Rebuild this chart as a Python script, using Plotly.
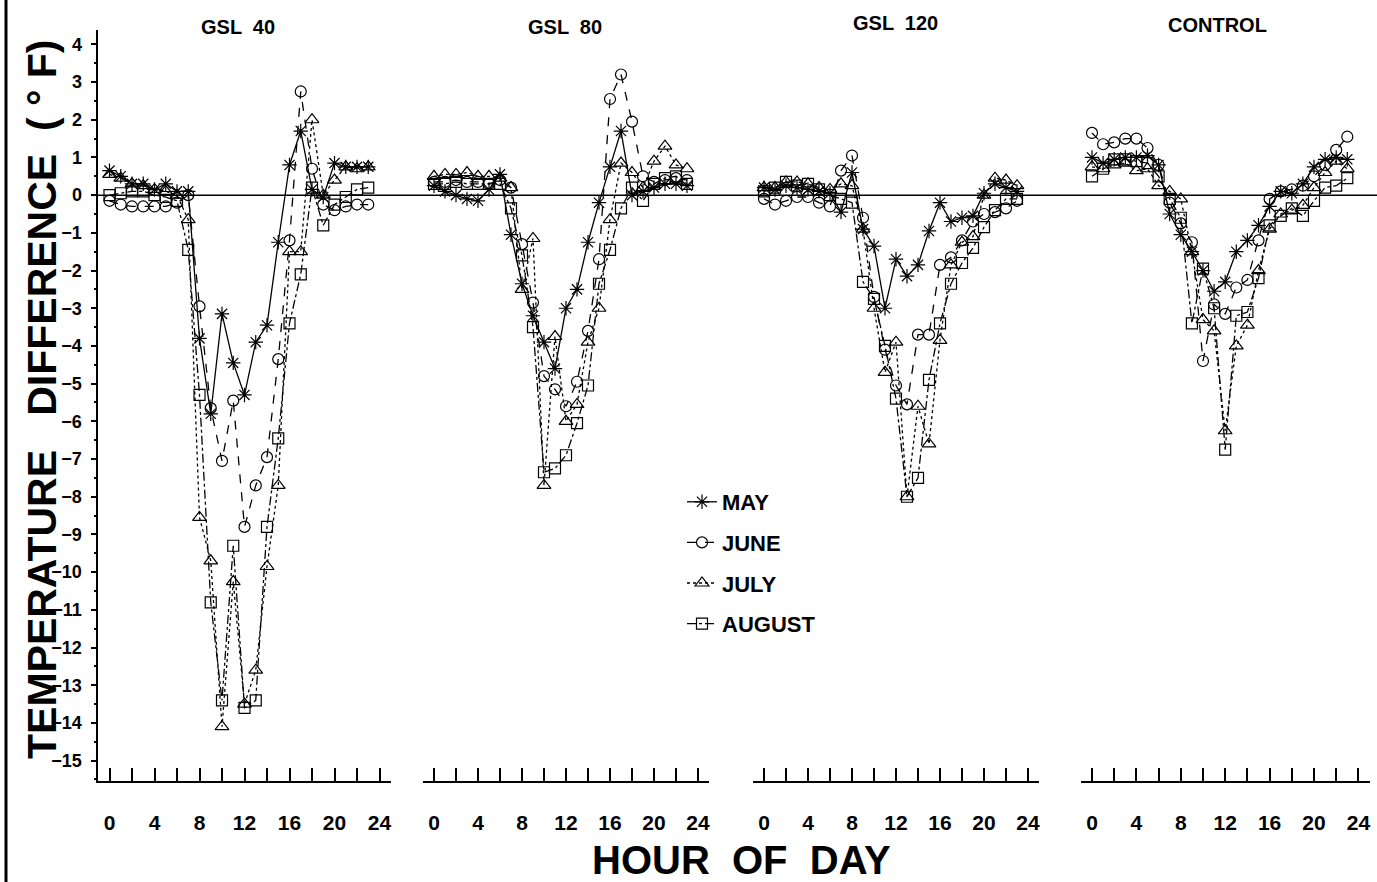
import plotly.graph_objects as go

# ---------------- data ----------------
hours = list(range(24))
panel_titles = ["GSL  40", "GSL  80", "GSL  120", "CONTROL"]
months = ["MAY", "JUNE", "JULY", "AUGUST"]
x_tick_vals = list(range(0, 25, 2))
x_tick_text = [str(v) if v % 4 == 0 else "" for v in x_tick_vals]
y_tick_vals = list(range(-15, 5))

# GSL 40
may_40 = [0.65, 0.5, 0.3, 0.3, 0.15, 0.3, 0.1, 0.1, -3.8, -5.8, -3.15, -4.45, -5.3, -3.9, -3.45, -1.25, 0.8, 1.7, 0.15, -0.05, 0.85, 0.75, 0.75, 0.75]
june_40 = [-0.15, -0.25, -0.3, -0.3, -0.3, -0.3, -0.2, 0.0, -2.95, -5.65, -7.05, -5.45, -8.8, -7.7, -6.95, -4.35, -1.2, 2.75, 0.7, -0.25, -0.4, -0.3, -0.25, -0.25]
july_40 = [0.55, 0.45, 0.3, 0.25, 0.15, 0.1, 0.0, -0.65, -8.55, -9.7, -14.1, -10.25, -13.5, -12.6, -9.85, -7.7, -1.5, -1.5, 2.0, 0.0, 0.4, 0.75, 0.7, 0.75]
aug_40 = [0.0, 0.05, 0.1, 0.1, 0.0, -0.05, -0.15, -1.45, -5.3, -10.8, -13.4, -9.3, -13.6, -13.4, -8.8, -6.45, -3.4, -2.1, 0.2, -0.8, -0.25, -0.05, 0.15, 0.2]

# GSL 80
may_80 = [0.25, 0.1, 0.0, -0.1, -0.15, 0.15, 0.55, -1.05, -2.35, -3.2, -3.9, -4.6, -3.0, -2.5, -1.25, -0.2, 0.75, 1.7, 0.0, 0.1, 0.2, 0.3, 0.3, 0.25]
june_80 = [0.35, 0.35, 0.4, 0.35, 0.35, 0.3, 0.4, 0.2, -1.3, -2.85, -4.8, -5.15, -5.6, -4.95, -3.6, -1.7, 2.55, 3.2, 1.95, 0.5, 0.35, 0.4, 0.45, 0.4]
july_80 = [0.5, 0.55, 0.55, 0.6, 0.5, 0.5, 0.45, 0.2, -2.5, -1.15, -7.7, -3.75, -6.0, -5.55, -3.9, -3.0, -0.65, 0.85, 0.6, 0.2, 0.9, 1.3, 0.8, 0.7]
aug_80 = [0.3, 0.3, 0.35, 0.3, 0.3, 0.3, 0.3, -0.35, -1.6, -3.5, -7.35, -7.25, -6.9, -6.05, -5.05, -2.35, -1.45, -0.35, 0.2, -0.15, 0.3, 0.45, 0.5, 0.3]

# GSL 120
may_120 = [0.2, 0.15, 0.25, 0.2, 0.15, 0.1, 0.05, -0.45, 0.6, -0.9, -1.35, -3.0, -1.7, -2.15, -1.85, -0.95, -0.2, -0.7, -0.6, -0.55, 0.05, 0.3, 0.2, 0.1]
june_120 = [-0.1, -0.25, -0.15, -0.05, -0.05, -0.2, -0.3, 0.65, 1.05, -0.6, -2.7, -4.1, -5.05, -5.55, -3.7, -3.7, -1.85, -1.65, -1.2, -0.7, -0.5, -0.45, -0.35, -0.15]
july_120 = [0.2, 0.2, 0.35, 0.35, 0.3, 0.2, 0.15, 0.3, 0.25, -0.9, -3.0, -4.7, -3.9, -8.0, -5.6, -6.6, -3.85, -1.85, -1.25, -1.1, 0.0, 0.45, 0.4, 0.25]
aug_120 = [0.1, 0.2, 0.35, 0.25, 0.3, 0.15, 0.0, -0.1, -0.2, -2.3, -2.75, -4.0, -5.4, -8.0, -7.5, -4.9, -3.4, -2.35, -1.8, -1.4, -0.85, -0.4, -0.1, -0.1]

# CONTROL
may_c = [1.0, 0.85, 0.95, 1.0, 1.0, 1.05, 0.8, -0.5, -1.05, -1.5, -2.0, -2.55, -2.3, -1.5, -1.2, -0.8, -0.3, 0.1, 0.05, 0.3, 0.75, 0.95, 1.0, 0.95]
june_c = [1.65, 1.35, 1.4, 1.5, 1.5, 1.25, 0.8, -0.2, -0.75, -1.25, -4.4, -2.9, -3.15, -2.45, -2.25, -1.2, -0.1, 0.1, 0.15, 0.25, 0.5, 0.8, 1.2, 1.55]
july_c = [0.75, 0.7, 0.8, 0.85, 0.65, 0.7, 0.25, 0.1, -0.1, -1.5, -3.3, -3.6, -6.25, -4.0, -3.45, -2.0, -0.9, -0.5, -0.4, -0.27, 0.2, 0.6, 0.9, 0.7]
aug_c = [0.5, 0.7, 0.95, 0.95, 0.9, 0.85, 0.5, -0.1, -0.6, -3.4, -1.95, -3.0, -6.75, -3.2, -3.1, -2.2, -0.8, -0.55, -0.35, -0.55, -0.15, 0.2, 0.25, 0.45]

panel_data = [
    [may_40, june_40, july_40, aug_40],
    [may_80, june_80, july_80, aug_80],
    [may_120, june_120, july_120, aug_120],
    [may_c, june_c, july_c, aug_c],
]

# ---------------- layout geometry ----------------
W, H = 1377, 882
ML, MR, MT, MB = 98, 7, 30, 101
PW = W - ML - MR
PH = H - MT - MB
X_RANGE = [-1, 25]
Y_RANGE = [-15.54, 4.38]
panel_x0 = [109.5, 434, 764, 1092]      # pixel of hour 0
panel_step = [11.25, 11.0, 11.0, 11.1]  # pixels per hour


def px(x):
    return (x - ML) / PW


def py(y):
    return (H - MB - y) / PH


FONT = "Liberation Sans, Arial, Helvetica, sans-serif"
styles = {
    "MAY": dict(symbol="asterisk-open", dash="solid", size=12),
    "JUNE": dict(symbol="circle-open", dash="dash", size=11),
    "JULY": dict(symbol="triangle-up-open", dash="dot", size=12),
    "AUGUST": dict(symbol="square-open", dash="dashdot", size=11),
}

fig = go.Figure()
for i, series in enumerate(panel_data):
    xa = "x" if i == 0 else f"x{i + 1}"
    for m, vals in zip(months, series):
        st = styles[m]
        fig.add_trace(go.Scatter(
            x=hours, y=vals, xaxis=xa, yaxis="y",
            mode="lines+markers", name=m, legendgroup=m, showlegend=(i == 0),
            line=dict(color="black", width=1.3, dash=st["dash"]),
            marker=dict(symbol=st["symbol"], size=st["size"], color="black",
                        line=dict(color="black", width=1.2)),
        ))

layout = dict(
    width=W, height=H,
    margin=dict(l=ML, r=MR, t=MT, b=MB),
    paper_bgcolor="white", plot_bgcolor="white",
    template="none",
    font=dict(family=FONT, color="black"),
    showlegend=True,
    legend=dict(x=px(682), y=py(481), xanchor="left", yanchor="top",
                font=dict(size=22, family=FONT, weight="bold", color="black"),
                bgcolor="rgba(0,0,0,0)", traceorder="grouped", tracegroupgap=9,
                itemwidth=30),
    yaxis=dict(domain=[0, 1], range=Y_RANGE, anchor="x",
               tickvals=y_tick_vals, ticks="outside", ticklen=6, tickwidth=1.5,
               tickcolor="black", showline=True, linecolor="black", linewidth=1.5,
               showgrid=False, zeroline=False, ticklabelstandoff=5,
               tickfont=dict(size=18, family=FONT, weight="bold", color="black"),
               minor=dict(dtick=0.5, ticks="outside", ticklen=3, tickcolor="black",
                          showgrid=False)),
)

for i in range(4):
    left = panel_x0[i] + X_RANGE[0] * panel_step[i]
    right = panel_x0[i] + X_RANGE[1] * panel_step[i]
    key = "xaxis" if i == 0 else f"xaxis{i + 1}"
    layout[key] = dict(
        domain=[max(0, px(left)), min(1, px(right))], range=X_RANGE, anchor="y",
        tickvals=x_tick_vals, ticktext=x_tick_text,
        ticks="inside", ticklen=13, tickwidth=1.5, tickcolor="black",
        showline=True, linecolor="black", linewidth=1.5,
        showgrid=False, zeroline=False, ticklabelstandoff=22,
        tickfont=dict(size=21, family=FONT, weight="bold", color="black"),
    )

fig.update_layout(**layout)

# zero reference line across the whole width
fig.add_shape(type="line", xref="paper", yref="y", x0=0, x1=px(W), y0=0, y1=0,
              line=dict(color="black", width=1.5))
# left edge border line of the page
fig.add_shape(type="line", xref="paper", yref="paper", x0=px(6), x1=px(6),
              y0=py(H), y1=py(0), line=dict(color="black", width=3))

title_pos = [(238, 27), (565, 27), (895, 23), (1217, 25)]
for t, (tx, ty) in zip(panel_titles, title_pos):
    fig.add_annotation(text=t, xref="paper", yref="paper", x=px(tx), y=py(ty),
                       xanchor="center", yanchor="middle", showarrow=False,
                       font=dict(size=20, family=FONT, weight="bold", color="black"))

fig.add_annotation(text="TEMPERATURE   DIFFERENCE  ( ° F)", xref="paper", yref="paper",
                   x=px(42), y=py(400), textangle=-90, xanchor="center", yanchor="middle",
                   showarrow=False,
                   font=dict(size=41, family=FONT, weight="bold", color="black"))
fig.add_annotation(text="HOUR  OF  DAY", xref="paper", yref="paper",
                   x=px(741), y=py(860), xanchor="center", yanchor="middle",
                   showarrow=False,
                   font=dict(size=40, family=FONT, weight="bold", color="black"))

fig.write_html("out.html")
